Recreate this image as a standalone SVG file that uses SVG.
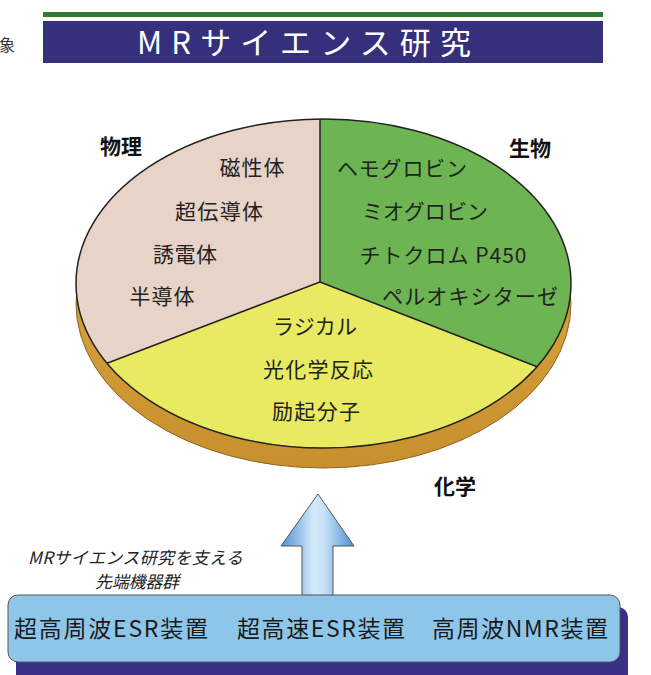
<svg xmlns="http://www.w3.org/2000/svg" width="651" height="675" viewBox="0 0 651 675">
<style>
.lbl{font-family:"Noto Sans CJK JP","Noto Sans",sans-serif;font-size:21px;fill:#222;text-anchor:middle;dominant-baseline:central}
.cat{font-family:"Noto Sans CJK JP","Noto Sans",sans-serif;font-size:21px;font-weight:bold;fill:#111;text-anchor:middle;dominant-baseline:central}
.dev{font-family:"Noto Sans CJK JP","Liberation Sans",sans-serif;font-size:23px;fill:#1a1a1a}
.it{font-family:"Noto Sans CJK JP","Liberation Serif",serif;font-size:17px;font-style:italic;fill:#222}
.edge{stroke:#222;stroke-width:1.5;fill:none}
</style>
<defs>
<linearGradient id="arrowGrad" x1="0" y1="0" x2="1" y2="0">
<stop offset="0" stop-color="#4f8fd4"/>
<stop offset="0.45" stop-color="#d6ebfa"/>
<stop offset="0.6" stop-color="#c4e0f6"/>
<stop offset="1" stop-color="#4f8fd4"/>
</linearGradient>
<linearGradient id="rimGrad" x1="0" y1="0" x2="0" y2="1">
<stop offset="0" stop-color="#e0ad48"/>
<stop offset="1" stop-color="#c8902c"/>
</linearGradient>
</defs>
<rect width="651" height="675" fill="#ffffff"/>
<text x="-1" y="51" font-family="Noto Sans CJK JP, sans-serif" font-size="16" fill="#333">象</text>
<g id="title">
<rect x="43" y="12" width="560" height="5" fill="#2f7a3a"/>
<rect x="43" y="21" width="560" height="42" fill="#352f7c"/>
<text x="137" y="54" font-family="Noto Sans CJK JP, Liberation Sans, sans-serif" font-size="31" fill="#ffffff" textLength="334" lengthAdjust="spacing">MRサイエンス研究</text>
</g>
<g id="pie">
<ellipse cx="323.5" cy="303.5" rx="247.5" ry="164.5" fill="url(#rimGrad)" stroke="#8a6420" stroke-width="1"/>
<g id="physics">
<path d="M320,282 L320,119 A247.5,164.5 0 0 0 107,363.2 Z" fill="#e7d3c7"/>
</g>
<g id="biology">
<path d="M320,282 L320,119 A247.5,164.5 0 0 1 537,366.7 Z" fill="#6db552"/>
</g>
<g id="chemistry">
<path d="M320,282 L107,363.2 A247.5,164.5 0 0 0 537,366.7 Z" fill="#e8ea62"/>
</g>
<ellipse class="edge" cx="323.5" cy="283.5" rx="247.5" ry="164.5"/>
<path class="edge" d="M320,119 L320,282 L107,363.2 M320,282 L537,366.7"/>
</g>
<g id="physics-labels">
<text class="cat" x="121" y="145">物理</text>
<text class="lbl" x="252" y="166" textLength="65" lengthAdjust="spacing">磁性体</text>
<text class="lbl" x="219" y="210" textLength="88" lengthAdjust="spacing">超伝導体</text>
<text class="lbl" x="185" y="253" textLength="64" lengthAdjust="spacing">誘電体</text>
<text class="lbl" x="162" y="295" textLength="65" lengthAdjust="spacing">半導体</text>
</g>
<g id="biology-labels">
<text class="cat" x="530" y="147">生物</text>
<text class="lbl" x="402" y="167" textLength="130" lengthAdjust="spacing">ヘモグロビン</text>
<text class="lbl" x="425" y="210" textLength="126" lengthAdjust="spacing">ミオグロビン</text>
<text class="lbl" x="443" y="254" textLength="167" lengthAdjust="spacing">チトクロム P450</text>
<text class="lbl" x="470" y="295" textLength="176" lengthAdjust="spacing">ペルオキシターゼ</text>
</g>
<g id="chemistry-labels">
<text class="lbl" x="315" y="325" textLength="84" lengthAdjust="spacing">ラジカル</text>
<text class="lbl" x="318" y="368" textLength="110" lengthAdjust="spacing">光化学反応</text>
<text class="lbl" x="316" y="410" textLength="88" lengthAdjust="spacing">励起分子</text>
<text class="cat" x="455" y="485">化学</text>
</g>
<g id="connectors">
<polygon points="318,494 354,546 333,546 333,596 302,596 302,546 281,546" fill="url(#arrowGrad)" stroke="#555" stroke-width="1"/>
</g>
<g id="caption">
<text class="it" x="28" y="564" textLength="215" lengthAdjust="spacing">MRサイエンス研究を支える</text>
<text class="it" x="95" y="588" textLength="84" lengthAdjust="spacing">先端機器群</text>
</g>
<g id="devices">
<rect x="16" y="607" width="612" height="80" rx="10" fill="#3a2f86"/>
<rect x="8" y="595" width="612" height="67" rx="10" fill="#8ec6ea" stroke="#555" stroke-width="1"/>
<text class="dev" x="14" y="637" textLength="194" lengthAdjust="spacing">超高周波ESR装置</text>
<text class="dev" x="237" y="637" textLength="168" lengthAdjust="spacing">超高速ESR装置</text>
<text class="dev" x="432" y="637" textLength="176" lengthAdjust="spacing">高周波NMR装置</text>
</g>
</svg>
